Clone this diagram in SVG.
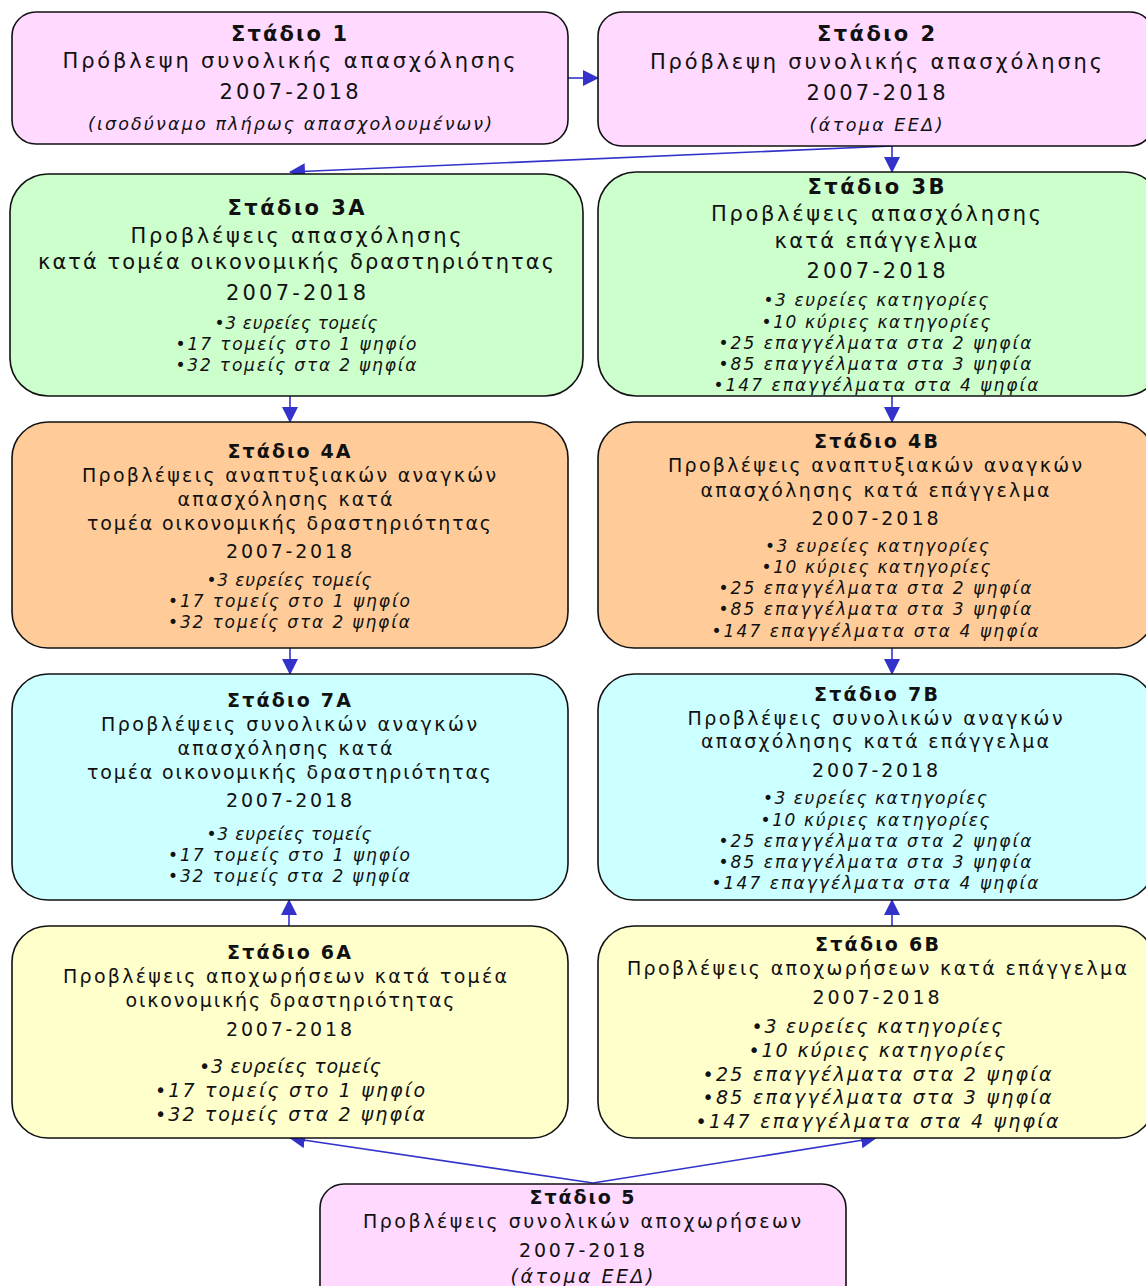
<svg xmlns="http://www.w3.org/2000/svg" width="1146" height="1286" viewBox="0 0 1146 1286">
<defs>
<marker id="ah" markerWidth="16" markerHeight="16" viewBox="0 0 16 16" refX="15" refY="8" orient="auto" markerUnits="userSpaceOnUse">
<path d="M0,0 L16,8 L0,16 Z" fill="#3333cc"/>
</marker>
<style>
text{font-family:"DejaVu Sans","Verdana","Liberation Sans",sans-serif;fill:#111;text-anchor:middle}
.t{font-weight:bold;font-size:21px}
.ts{font-weight:bold;font-size:19px}
.b{font-size:21px}
.bs{font-size:19px}
.i{font-style:italic;font-size:17.5px}
.is{font-style:italic;font-size:17px}
.il{font-style:italic;font-size:19px}
.box{stroke:#111;stroke-width:1.6}
.pink{fill:#ffd9ff}.green{fill:#ccffcc}.orange{fill:#ffcc99}.cyan{fill:#ccffff}.yellow{fill:#ffffcc}
.c{stroke:#3333cc;stroke-width:1.6;fill:none;marker-end:url(#ah)}
</style>
</defs>
<rect width="1146" height="1286" fill="#ffffff"/>

<g id="connectors">
<line class="c" x1="568" y1="78" x2="598" y2="78"/>
<line class="c" x1="892" y1="146" x2="892" y2="172"/>
<line class="c" x1="892" y1="146" x2="290" y2="172"/>
<line class="c" x1="290" y1="396" x2="290" y2="422"/>
<line class="c" x1="892" y1="396" x2="892" y2="422"/>
<line class="c" x1="290" y1="648" x2="290" y2="674"/>
<line class="c" x1="892" y1="648" x2="892" y2="674"/>
<line class="c" x1="289" y1="926" x2="289" y2="900"/>
<line class="c" x1="892" y1="926" x2="892" y2="900"/>
<line class="c" x1="593" y1="1183" x2="290" y2="1138"/>
<line class="c" x1="593" y1="1183" x2="876" y2="1138"/>
</g>

<g id="stage1">
<rect class="box pink" x="12" y="12" width="556" height="132" rx="24"/>
<text class="t" x="289" y="41" textLength="116" lengthAdjust="spacing">Στάδιο 1</text>
<text class="b" x="289" y="68" textLength="453" lengthAdjust="spacing">Πρόβλεψη συνολικής απασχόλησης</text>
<text class="b" x="289" y="99" textLength="139" lengthAdjust="spacing">2007-2018</text>
<text class="i" x="290" y="130" textLength="404" lengthAdjust="spacing">(ισοδύναμο πλήρως απασχολουμένων)</text>
</g>

<g id="stage2">
<rect class="box pink" x="598" y="12" width="556" height="134" rx="24"/>
<text class="t" x="876" y="41" textLength="118" lengthAdjust="spacing">Στάδιο 2</text>
<text class="b" x="876" y="69" textLength="452" lengthAdjust="spacing">Πρόβλεψη συνολικής απασχόλησης</text>
<text class="b" x="876" y="100" textLength="139" lengthAdjust="spacing">2007-2018</text>
<text class="i" x="876" y="131" textLength="133" lengthAdjust="spacing">(άτομα ΕΕΔ)</text>
</g>

<g id="stage3A">
<rect class="box green" x="10" y="174" width="573" height="222" rx="38"/>
<text class="t" x="296" y="215" textLength="137" lengthAdjust="spacing">Στάδιο 3A</text>
<text class="b" x="296" y="243" textLength="331" lengthAdjust="spacing">Προβλέψεις απασχόλησης</text>
<text class="b" x="296" y="269" textLength="516" lengthAdjust="spacing">κατά τομέα οικονομικής δραστηριότητας</text>
<text class="b" x="296" y="300" textLength="140" lengthAdjust="spacing">2007-2018</text>
<text class="is" x="296" y="329" textLength="163" lengthAdjust="spacing">•3 ευρείες τομείς</text>
<text class="is" x="296" y="350" textLength="241" lengthAdjust="spacing">•17 τομείς στο 1 ψηφίο</text>
<text class="is" x="296" y="371" textLength="241" lengthAdjust="spacing">•32 τομείς στα 2 ψηφία</text>
</g>

<g id="stage3B">
<rect class="box green" x="598" y="172" width="564" height="224" rx="38"/>
<text class="t" x="876" y="194" textLength="137" lengthAdjust="spacing">Στάδιο 3B</text>
<text class="b" x="876" y="221" textLength="330" lengthAdjust="spacing">Προβλέψεις απασχόλησης</text>
<text class="b" x="876" y="248" textLength="203" lengthAdjust="spacing">κατά επάγγελμα</text>
<text class="b" x="876" y="278" textLength="139" lengthAdjust="spacing">2007-2018</text>
<text class="is" x="876" y="306" textLength="225" lengthAdjust="spacing">•3 ευρείες κατηγορίες</text>
<text class="is" x="876" y="328" textLength="229" lengthAdjust="spacing">•10 κύριες κατηγορίες</text>
<text class="is" x="875" y="349" textLength="313" lengthAdjust="spacing">•25 επαγγέλματα στα 2 ψηφία</text>
<text class="is" x="875" y="370" textLength="313" lengthAdjust="spacing">•85 επαγγέλματα στα 3 ψηφία</text>
<text class="is" x="876" y="391" textLength="325" lengthAdjust="spacing">•147 επαγγέλματα στα 4 ψηφία</text>
</g>

<g id="stage4A">
<rect class="box orange" x="12" y="422" width="556" height="226" rx="36"/>
<text class="ts" x="289" y="458" textLength="123" lengthAdjust="spacing">Στάδιο 4A</text>
<text class="bs" x="289" y="482" textLength="414" lengthAdjust="spacing">Προβλέψεις αναπτυξιακών αναγκών</text>
<text class="bs" x="285" y="506" textLength="215" lengthAdjust="spacing">απασχόλησης κατά</text>
<text class="bs" x="289" y="530" textLength="404" lengthAdjust="spacing">τομέα οικονομικής δραστηριότητας</text>
<text class="bs" x="289" y="558" textLength="126" lengthAdjust="spacing">2007-2018</text>
<text class="is" x="289" y="586" textLength="165" lengthAdjust="spacing">•3 ευρείες τομείς</text>
<text class="is" x="289" y="607" textLength="242" lengthAdjust="spacing">•17 τομείς στο 1 ψηφίο</text>
<text class="is" x="289" y="628" textLength="242" lengthAdjust="spacing">•32 τομείς στα 2 ψηφία</text>
</g>

<g id="stage4B">
<rect class="box orange" x="598" y="422" width="556" height="226" rx="36"/>
<text class="ts" x="876" y="448" textLength="124" lengthAdjust="spacing">Στάδιο 4B</text>
<text class="bs" x="875" y="472" textLength="414" lengthAdjust="spacing">Προβλέψεις αναπτυξιακών αναγκών</text>
<text class="bs" x="875" y="497" textLength="349" lengthAdjust="spacing">απασχόλησης κατά επάγγελμα</text>
<text class="bs" x="875" y="525" textLength="127" lengthAdjust="spacing">2007-2018</text>
<text class="is" x="877" y="552" textLength="224" lengthAdjust="spacing">•3 ευρείες κατηγορίες</text>
<text class="is" x="876" y="573" textLength="229" lengthAdjust="spacing">•10 κύριες κατηγορίες</text>
<text class="is" x="875" y="594" textLength="313" lengthAdjust="spacing">•25 επαγγέλματα στα 2 ψηφία</text>
<text class="is" x="875" y="615" textLength="313" lengthAdjust="spacing">•85 επαγγέλματα στα 3 ψηφία</text>
<text class="is" x="875" y="637" textLength="327" lengthAdjust="spacing">•147 επαγγέλματα στα 4 ψηφία</text>
</g>

<g id="stage7A">
<rect class="box cyan" x="12" y="674" width="556" height="226" rx="36"/>
<text class="ts" x="289" y="707" textLength="124" lengthAdjust="spacing">Στάδιο 7A</text>
<text class="bs" x="289" y="731" textLength="376" lengthAdjust="spacing">Προβλέψεις συνολικών αναγκών</text>
<text class="bs" x="285" y="755" textLength="215" lengthAdjust="spacing">απασχόλησης κατά</text>
<text class="bs" x="289" y="779" textLength="404" lengthAdjust="spacing">τομέα οικονομικής δραστηριότητας</text>
<text class="bs" x="289" y="807" textLength="126" lengthAdjust="spacing">2007-2018</text>
<text class="is" x="289" y="840" textLength="165" lengthAdjust="spacing">•3 ευρείες τομείς</text>
<text class="is" x="289" y="861" textLength="242" lengthAdjust="spacing">•17 τομείς στο 1 ψηφίο</text>
<text class="is" x="289" y="882" textLength="242" lengthAdjust="spacing">•32 τομείς στα 2 ψηφία</text>
</g>

<g id="stage7B">
<rect class="box cyan" x="598" y="674" width="556" height="226" rx="36"/>
<text class="ts" x="876" y="701" textLength="124" lengthAdjust="spacing">Στάδιο 7B</text>
<text class="bs" x="875" y="725" textLength="375" lengthAdjust="spacing">Προβλέψεις συνολικών αναγκών</text>
<text class="bs" x="875" y="748" textLength="348" lengthAdjust="spacing">απασχόλησης κατά επάγγελμα</text>
<text class="bs" x="875" y="777" textLength="126" lengthAdjust="spacing">2007-2018</text>
<text class="is" x="875" y="804" textLength="224" lengthAdjust="spacing">•3 ευρείες κατηγορίες</text>
<text class="is" x="875" y="826" textLength="229" lengthAdjust="spacing">•10 κύριες κατηγορίες</text>
<text class="is" x="875" y="847" textLength="313" lengthAdjust="spacing">•25 επαγγέλματα στα 2 ψηφία</text>
<text class="is" x="875" y="868" textLength="313" lengthAdjust="spacing">•85 επαγγέλματα στα 3 ψηφία</text>
<text class="is" x="875" y="889" textLength="327" lengthAdjust="spacing">•147 επαγγέλματα στα 4 ψηφία</text>
</g>

<g id="stage6A">
<rect class="box yellow" x="12" y="926" width="556" height="212" rx="36"/>
<text class="ts" x="289" y="959" textLength="124" lengthAdjust="spacing">Στάδιο 6A</text>
<text class="bs" x="285" y="983" textLength="444" lengthAdjust="spacing">Προβλέψεις αποχωρήσεων κατά τομέα</text>
<text class="bs" x="290" y="1007" textLength="329" lengthAdjust="spacing">οικονομικής δραστηριότητας</text>
<text class="bs" x="289" y="1036" textLength="126" lengthAdjust="spacing">2007-2018</text>
<text class="il" x="290" y="1073" textLength="182" lengthAdjust="spacing">•3 ευρείες τομείς</text>
<text class="il" x="290" y="1097" textLength="270" lengthAdjust="spacing">•17 τομείς στο 1 ψηφίο</text>
<text class="il" x="290" y="1121" textLength="270" lengthAdjust="spacing">•32 τομείς στα 2 ψηφία</text>
</g>

<g id="stage6B">
<rect class="box yellow" x="598" y="926" width="556" height="212" rx="36"/>
<text class="ts" x="877" y="951" textLength="124" lengthAdjust="spacing">Στάδιο 6B</text>
<text class="bs" x="877" y="975" textLength="500" lengthAdjust="spacing">Προβλέψεις αποχωρήσεων κατά επάγγελμα</text>
<text class="bs" x="876" y="1004" textLength="127" lengthAdjust="spacing">2007-2018</text>
<text class="il" x="877" y="1033" textLength="251" lengthAdjust="spacing">•3 ευρείες κατηγορίες</text>
<text class="il" x="877" y="1057" textLength="257" lengthAdjust="spacing">•10 κύριες κατηγορίες</text>
<text class="il" x="877" y="1081" textLength="349" lengthAdjust="spacing">•25 επαγγέλματα στα 2 ψηφία</text>
<text class="il" x="877" y="1104" textLength="349" lengthAdjust="spacing">•85 επαγγέλματα στα 3 ψηφία</text>
<text class="il" x="877" y="1128" textLength="363" lengthAdjust="spacing">•147 επαγγέλματα στα 4 ψηφία</text>
</g>

<g id="stage5">
<rect class="box pink" x="320" y="1184" width="526" height="130" rx="24"/>
<text class="ts" x="582" y="1204" textLength="105" lengthAdjust="spacing">Στάδιο 5</text>
<text class="bs" x="582" y="1228" textLength="438" lengthAdjust="spacing">Προβλέψεις συνολικών αποχωρήσεων</text>
<text class="bs" x="582" y="1257" textLength="126" lengthAdjust="spacing">2007-2018</text>
<text class="il" x="582" y="1283" textLength="143" lengthAdjust="spacing">(άτομα ΕΕΔ)</text>
</g>
</svg>
